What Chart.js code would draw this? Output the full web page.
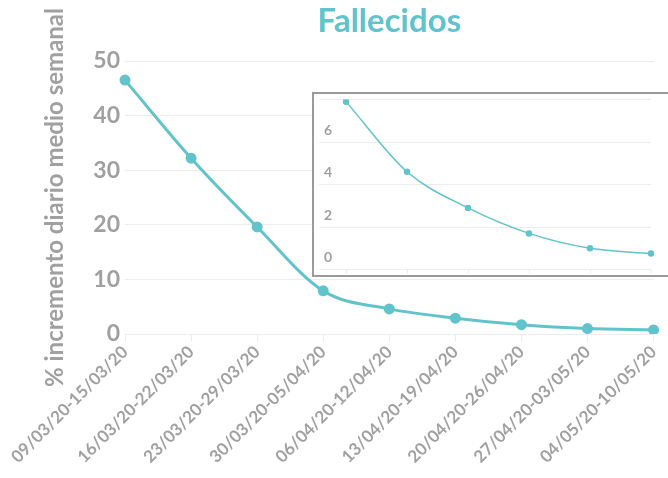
<!DOCTYPE html>
<html>
<head>
<meta charset="utf-8">
<script src="https://cdn.jsdelivr.net/npm/chart.js@4/dist/chart.umd.min.js"></script>
<style>
  body { margin: 0; background: #fff; }
  #wrap { position: relative; width: 668px; height: 478px; }
  #inset { position: absolute; left: 312px; top: 92px; width: 354px; height: 181px;
           border: 2px solid #9a9a9a; background: #fff; }
</style>
</head>
<body>
<div id="wrap">
  <canvas id="mainChart" width="668" height="478"></canvas>
  <div id="inset"><canvas id="insetChart" width="354" height="181"></canvas></div>
</div>
<script>
// weekly periods
const weeks = ['09/03/20-15/03/20', '16/03/20-22/03/20', '23/03/20-29/03/20', '30/03/20-05/04/20',
               '06/04/20-12/04/20', '13/04/20-19/04/20', '20/04/20-26/04/20', '27/04/20-03/05/20',
               '04/05/20-10/05/20'];
// % incremento diario medio semanal
const fallecidos = [46.5, 32.2, 19.6, 7.9, 4.6, 2.9, 1.7, 1.0, 0.75];
// zoomed part from 30/03 on
const insetWeeks = weeks.slice(3);
const insetValues = fallecidos.slice(3);

const teal = '#62c4cb';
const gray = '#a0a0a0';
const gridColor = '#ececec';

Chart.defaults.font.family = 'Lato, sans-serif';
Chart.defaults.font.weight = 'bold';
Chart.defaults.color = gray;

new Chart(document.getElementById('mainChart'), {
    type: 'line',
    data: {
        labels: weeks,
        datasets: [{
            data: fallecidos,
            borderColor: teal,
            backgroundColor: teal,
            borderWidth: 3,
            pointRadius: 4,
            cubicInterpolationMode: 'monotone'
        }]
    },
    options: {
        responsive: false,
        animation: false,
        layout: { padding: { left: 0, right: 13, top: 0, bottom: 0 } },
        plugins: {
            legend: { display: false },
            tooltip: { enabled: false },
            title: {
                display: true,
                text: 'Fallecidos',
                color: teal,
                fullSize: false,
                font: { size: 33, weight: 'bold' },
                padding: { top: 2, bottom: 19.4 }
            }
        },
        scales: {
            x: {
                offset: false,
                grid: { drawOnChartArea: false, color: gridColor, tickLength: 8 },
                border: { display: false },
                ticks: { font: { size: 17 }, maxRotation: 45, minRotation: 45, padding: 0 },
                afterFit: function(axis) { axis.height = 144; }
            },
            y: {
                min: 0,
                max: 50,
                grid: { color: gridColor, tickLength: 0 },
                border: { display: false },
                ticks: { stepSize: 10, font: { size: 23 }, padding: 5 },
                title: {
                    display: true,
                    text: '% incremento diario medio semanal',
                    font: { size: 24 },
                    padding: { top: 41, bottom: 0 }
                },
                afterFit: function(axis) { axis.width = 125; }
            }
        }
    }
});

new Chart(document.getElementById('insetChart'), {
    type: 'line',
    data: {
        labels: insetWeeks,
        datasets: [{
            data: insetValues,
            borderColor: teal,
            backgroundColor: teal,
            borderWidth: 1.5,
            pointRadius: 2.5,
            cubicInterpolationMode: 'monotone'
        }]
    },
    options: {
        responsive: false,
        animation: false,
        layout: { padding: { left: 0, right: 17, top: 2, bottom: 0 } },
        plugins: { legend: { display: false }, tooltip: { enabled: false } },
        scales: {
            x: {
                offset: false,
                grid: { drawOnChartArea: false, color: gridColor, tickLength: 4 },
                border: { display: false },
                ticks: { display: false },
                afterFit: function(axis) { axis.height = 4; }
            },
            y: {
                min: 0,
                max: 8,
                grid: { color: gridColor, tickLength: 27 },
                border: { display: false },
                ticks: {
                    stepSize: 2,
                    font: { size: 14 },
                    padding: -13,
                    labelOffset: -12,
                    callback: function(v) { return v === 8 ? '' : v; }
                },
                afterFit: function(axis) { axis.width = 32; }
            }
        }
    }
});
</script>
</body>
</html>
